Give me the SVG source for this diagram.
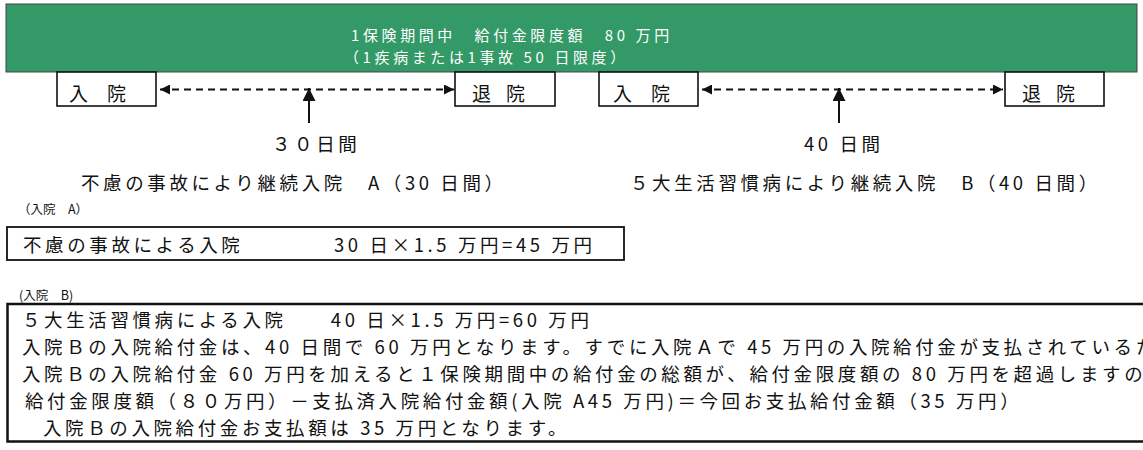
<svg xmlns="http://www.w3.org/2000/svg" width="1143" height="450" viewBox="0 0 1143 450">
<defs>
<style>
text{font-family:"Noto Sans CJK JP","Liberation Sans",sans-serif;fill:#111;}
.hd{fill:#fff;font-size:15px;letter-spacing:3.6px;}
.bx{fill:#fff;stroke:#111;stroke-width:1.6;}
.lb{font-size:19px;}
.t{font-size:18.5px;letter-spacing:3.6px;}
.sm{font-size:12.5px;}
.dash{stroke:#111;stroke-width:2;stroke-dasharray:7,5;fill:none;}
.up{stroke:#111;stroke-width:2;fill:none;}
</style>
<marker id="ah" viewBox="0 0 10 10" refX="10" refY="5" markerWidth="11" markerHeight="10" markerUnits="userSpaceOnUse" orient="auto-start-reverse">
<path d="M0,0 L10,5 L0,10 Z" fill="#111"/>
</marker>
<marker id="ahu" viewBox="0 0 10 10" refX="10" refY="5" markerWidth="15" markerHeight="13" markerUnits="userSpaceOnUse" orient="auto">
<path d="M0,0 L10,5 L0,10 Z" fill="#111"/>
</marker>
</defs>
<g id="header">
<rect x="6" y="4" width="1131" height="68" fill="#339966" stroke="#444" stroke-width="1"/>
<text class="hd" x="351" y="41">1保険期間中　給付金限度額　80 万円</text>
<text class="hd" x="344" y="63">（1疾病または1事故 50 日限度）</text>
</g>
<g id="nyuin1"><rect class="bx" x="57" y="72" width="99" height="34"/><text class="lb" x="69" y="101">入　院</text></g>
<g id="taiin1"><rect class="bx" x="455" y="72" width="100" height="34"/><text class="lb" x="472" y="101" letter-spacing="-2">退　院</text></g>
<g id="nyuin2"><rect class="bx" x="599" y="72" width="99" height="34"/><text class="lb" x="613" y="101">入　院</text></g>
<g id="taiin2"><rect class="bx" x="1005" y="72" width="99" height="34"/><text class="lb" x="1022" y="101" letter-spacing="-2">退　院</text></g>
<g id="connectors">
<line class="dash" x1="160" y1="89.5" x2="454" y2="89.5" marker-start="url(#ah)" marker-end="url(#ah)"/>
<line class="up" x1="309" y1="123" x2="309" y2="88" marker-end="url(#ahu)"/>
<line class="dash" x1="702" y1="89.5" x2="1003" y2="89.5" marker-start="url(#ah)" marker-end="url(#ah)"/>
<line class="up" x1="839" y1="123" x2="839" y2="88" marker-end="url(#ahu)"/>
</g>
<g id="labelA">
<text class="t" x="272" y="151" letter-spacing="1.5">３０日間</text>
<text class="t" x="81" y="190" letter-spacing="4">不慮の事故により継続入院　A（30 日間）</text>
</g>
<g id="labelB">
<text class="t" x="804" y="151" letter-spacing="2">40 日間</text>
<text class="t" x="630" y="190">５大生活習慣病により継続入院　B（40 日間）</text>
</g>
<g id="boxA">
<text class="sm" x="18" y="214">（入院　A）</text>
<rect x="7" y="227" width="617" height="33" fill="#fff" stroke="#111" stroke-width="1.8"/>
<text class="t" x="23" y="252">不慮の事故による入院</text>
<text class="t" x="334" y="252">30 日×1.5 万円=45 万円</text>
</g>
<g id="boxB">
<text class="sm" x="19" y="300">(入院　B)</text>
<rect x="7.5" y="304" width="1160" height="137.5" fill="#fff" stroke="#111" stroke-width="2.5"/>
<text class="t" x="22" y="327">５大生活習慣病による入院　　40 日×1.5 万円=60 万円</text>
<text class="t" x="22" y="354">入院Ｂの入院給付金は、40 日間で 60 万円となります。すでに入院Ａで 45 万円の入院給付金が支払されているため</text>
<text class="t" x="22" y="381">入院Ｂの入院給付金 60 万円を加えると１保険期間中の給付金の総額が、給付金限度額の 80 万円を超過しますので</text>
<text class="t" x="25" y="408" letter-spacing="3.3">給付金限度額（８０万円）－支払済入院給付金額(入院 A45 万円)＝今回お支払給付金額（35 万円）</text>
<text class="t" x="43" y="435">入院Ｂの入院給付金お支払額は 35 万円となります。</text>
</g>
</svg>
